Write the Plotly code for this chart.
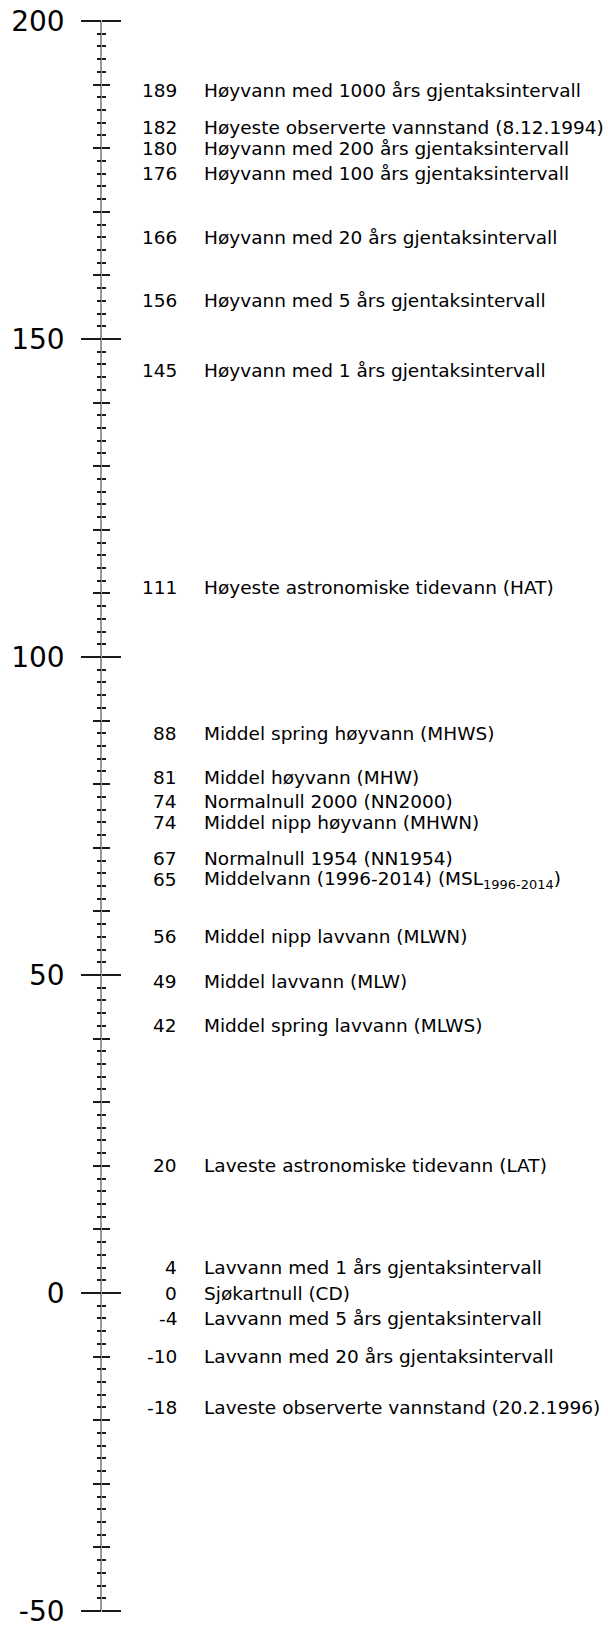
import plotly.graph_objects as go

# ---- data -------------------------------------------------------------
levels = [189, 182, 180, 176, 166, 156, 145, 111, 88, 81, 74, 74, 67, 65,
          56, 49, 42, 20, 4, 0, -4, -10, -18]
names = [
    "Høyvann med 1000 års gjentaksintervall",
    "Høyeste observerte vannstand (8.12.1994)",
    "Høyvann med 200 års gjentaksintervall",
    "Høyvann med 100 års gjentaksintervall",
    "Høyvann med 20 års gjentaksintervall",
    "Høyvann med 5 års gjentaksintervall",
    "Høyvann med 1 års gjentaksintervall",
    "Høyeste astronomiske tidevann (HAT)",
    "Middel spring høyvann (MHWS)",
    "Middel høyvann (MHW)",
    "Normalnull 2000 (NN2000)",
    "Middel nipp høyvann (MHWN)",
    "Normalnull 1954 (NN1954)",
    "Middelvann (1996-2014) (MSL<sub>1996-2014</sub>)",
    "Middel nipp lavvann (MLWN)",
    "Middel lavvann (MLW)",
    "Middel spring lavvann (MLWS)",
    "Laveste astronomiske tidevann (LAT)",
    "Lavvann med 1 års gjentaksintervall",
    "Sjøkartnull (CD)",
    "Lavvann med 5 års gjentaksintervall",
    "Lavvann med 20 års gjentaksintervall",
    "Laveste observerte vannstand (20.2.1996)",
]
axis_min, axis_max = -50, 200
major_ticks = [-50, 0, 50, 100, 150, 200]
medium_step, minor_step = 10, 2

# ---- layout constants -------------------------------------------------
W, H = 608, 1628
M_TOP, M_BOT = 20.7, 15.3
AXIS_X = 100.7 / W
NUM_X = 177 / W
TXT_X = 204 / W
FONT = "DejaVu Sans"
LABEL_SIZE = 18.5
TICK_SIZE = 28
MIN_GAP = 21.0
LINE_COL = "#9a9a9a"
TICK_COL = "#1a1a1a"

plot_h = H - M_TOP - M_BOT
px_per_unit = plot_h / (axis_max - axis_min)


def to_px(v):
    return (axis_max - v) * px_per_unit


# simple label collision resolution (bottom-up, push upward)
val_px = [to_px(v) for v in levels]
placed = val_px[:]
for i in range(len(levels) - 2, -1, -1):
    placed[i] = min(val_px[i], placed[i + 1] - MIN_GAP)
shifts = [val_px[i] - placed[i] for i in range(len(levels))]

fig = go.Figure()

axis_common = dict(
    range=[axis_min, axis_max], fixedrange=True, showgrid=False,
    zeroline=False, anchor="free", position=AXIS_X, tickwidth=1.5,
    tickcolor=TICK_COL,
)

for name in ["y", "y2", "y3", "y4"]:
    fig.add_trace(go.Scatter(x=[0.5] * len(levels), y=levels, yaxis=name,
                             mode="markers", marker=dict(opacity=0),
                             hoverinfo="skip", showlegend=False))

minor_cfg = dict(dtick=minor_step, tick0=0, ticks="outside", ticklen=4,
                 tickwidth=1.5, tickcolor=TICK_COL, showgrid=False)

fig.update_layout(
    width=W, height=H,
    margin=dict(l=0, r=0, t=M_TOP, b=M_BOT),
    paper_bgcolor="white", plot_bgcolor="white",
    showlegend=False,
    xaxis=dict(range=[0, 1], visible=False, fixedrange=True),
    yaxis=dict(**axis_common, side="left", tickmode="array",
               tickvals=major_ticks, ticktext=[str(t) for t in major_ticks],
               ticks="outside", ticklen=19.5, showline=False,
               tickfont=dict(family=FONT, size=TICK_SIZE, color="#000"),
               ticklabelstandoff=11, ticklabeloverflow="allow",
               minor=minor_cfg),
    yaxis2=dict(**axis_common, side="right", overlaying="y",
                tickmode="array", tickvals=major_ticks,
                ticks="outside", ticklen=19.5, showticklabels=False,
                showline=False, minor=minor_cfg),
    yaxis3=dict(**axis_common, side="left", overlaying="y", tick0=0,
                dtick=medium_step, ticks="outside", ticklen=8,
                showticklabels=False, showline=False),
    yaxis4=dict(**axis_common, side="right", overlaying="y", tick0=0,
                dtick=medium_step, ticks="outside", ticklen=8,
                showticklabels=False, showline=True,
                linecolor=LINE_COL, linewidth=2.2),
)

annotations = []
for v, nm, s in zip(levels, names, shifts):
    common = dict(xref="paper", yref="y", y=v, yshift=s, showarrow=False,
                  yanchor="middle", borderpad=0, borderwidth=0,
                  font=dict(family=FONT, size=LABEL_SIZE, color="#000"))
    annotations.append(dict(x=NUM_X, xanchor="right", text=str(v), **common))
    annotations.append(dict(x=TXT_X, xanchor="left", text=nm, **common))
fig.update_layout(annotations=annotations)

fig.write_html("out.html", config={"displayModeBar": False},
               post_script="document.body.style.margin='0';")
